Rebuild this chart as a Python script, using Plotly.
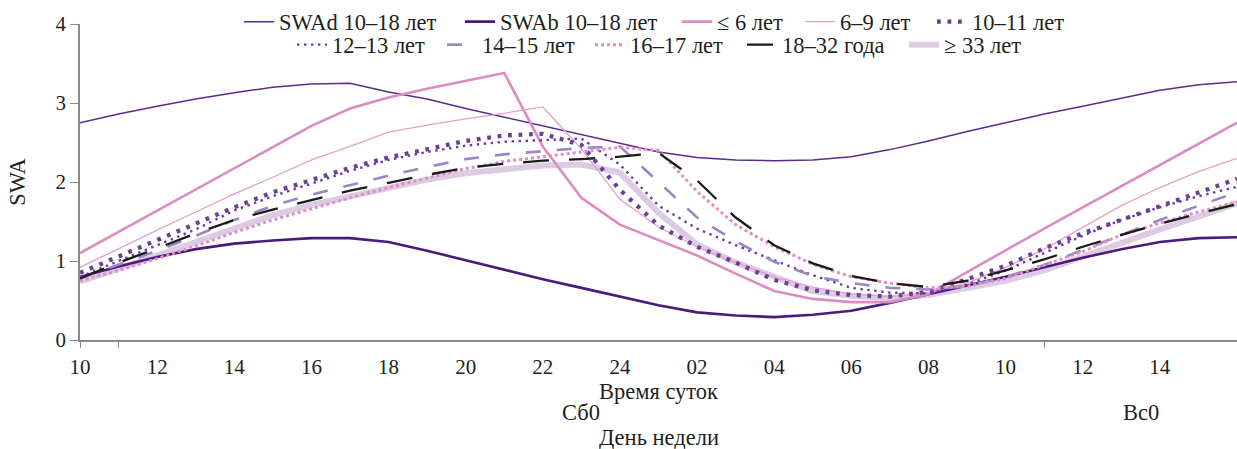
import plotly.graph_objects as go

# ---- data -------------------------------------------------------------
hours = list(range(10, 41))  # continuous hour index (10 = Sat 10:00 ... 40 = Sun 16:00)

tick_hours = list(range(10, 40, 2))
tick_labels = ["10", "12", "14", "16", "18", "20", "22", "24",
               "02", "04", "06", "08", "10", "12", "14"]

day_bounds = [10, 11, 35, 40]
day_labels = ["Сб0", "Вс0"]

swa_d = [2.75, 2.86, 2.96, 3.05, 3.13, 3.20, 3.24, 3.25, 3.14, 3.05,
         2.93, 2.82, 2.71, 2.60, 2.49, 2.38, 2.31, 2.28, 2.27, 2.28,
         2.32, 2.41, 2.52, 2.64, 2.75, 2.86, 2.96, 3.06, 3.16, 3.23, 3.27]
swa_b = [0.80, 0.93, 1.05, 1.15, 1.22, 1.26, 1.29, 1.29, 1.24, 1.13,
         1.01, 0.89, 0.77, 0.66, 0.55, 0.44, 0.35, 0.31, 0.29, 0.32,
         0.37, 0.47, 0.58, 0.69, 0.80, 0.92, 1.04, 1.15, 1.24, 1.29, 1.30]
age_le6 = [1.10, 1.37, 1.64, 1.91, 2.18, 2.45, 2.71, 2.93, 3.07, 3.18,
           3.28, 3.38, 2.45, 1.80, 1.46, 1.27, 1.07, 0.84, 0.62, 0.52,
           0.48, 0.48, 0.58, 0.86, 1.14, 1.41, 1.68, 1.95, 2.21, 2.48, 2.75]
age_6_9 = [0.92, 1.16, 1.39, 1.62, 1.85, 2.06, 2.28, 2.45, 2.63, 2.72,
           2.80, 2.87, 2.95, 2.42, 1.78, 1.43, 1.18, 0.98, 0.80, 0.67,
           0.58, 0.55, 0.60, 0.72, 0.92, 1.15, 1.43, 1.70, 1.93, 2.13, 2.30]
age_10_11 = [0.85, 1.06, 1.27, 1.47, 1.68, 1.87, 2.03, 2.18, 2.31, 2.42,
             2.52, 2.59, 2.61, 2.47, 1.90, 1.45, 1.18, 0.98, 0.76, 0.63,
             0.57, 0.55, 0.61, 0.77, 0.94, 1.16, 1.35, 1.52, 1.69, 1.87, 2.04]
age_12_13 = [0.80, 1.00, 1.20, 1.40, 1.64, 1.82, 1.98, 2.14, 2.28, 2.38,
             2.46, 2.51, 2.53, 2.55, 2.22, 1.70, 1.41, 1.20, 1.01, 0.82,
             0.66, 0.60, 0.59, 0.70, 0.88, 1.10, 1.32, 1.52, 1.68, 1.82, 1.94]
age_14_15 = [0.78, 0.95, 1.13, 1.32, 1.52, 1.70, 1.84, 1.96, 2.08, 2.19,
             2.29, 2.35, 2.39, 2.43, 2.45, 2.00, 1.55, 1.25, 0.99, 0.81,
             0.72, 0.66, 0.64, 0.68, 0.80, 0.95, 1.14, 1.34, 1.52, 1.70, 1.87]
age_16_17 = [0.75, 0.88, 1.03, 1.19, 1.36, 1.52, 1.66, 1.80, 1.93, 2.05,
             2.17, 2.26, 2.32, 2.38, 2.44, 2.40, 1.88, 1.46, 1.18, 0.96,
             0.80, 0.72, 0.66, 0.68, 0.78, 0.95, 1.12, 1.33, 1.48, 1.62, 1.75]
age_18_32 = [0.78, 0.98, 1.16, 1.35, 1.52, 1.65, 1.77, 1.89, 1.99, 2.09,
             2.18, 2.23, 2.27, 2.29, 2.32, 2.37, 2.02, 1.55, 1.20, 0.97,
             0.81, 0.72, 0.67, 0.75, 0.88, 1.02, 1.18, 1.33, 1.47, 1.60, 1.72]
age_ge33 = [0.74, 0.90, 1.07, 1.24, 1.42, 1.58, 1.71, 1.82, 1.93, 2.03,
            2.11, 2.16, 2.21, 2.22, 2.12, 1.61, 1.21, 0.98, 0.80, 0.62,
            0.56, 0.53, 0.57, 0.66, 0.75, 0.88, 1.06, 1.24, 1.40, 1.56, 1.73]

# ---- styling ----------------------------------------------------------
FONT = "Liberation Serif"
TXT = "#231f20"
AXIS = "#8a8a8a"
FS = 22.5      # legend / titles / day labels
FS_TICK = 21   # numeric tick labels

# name, values, color, width, dash, legend text start px, legend row
series = [
    ("≥ 33 лет", age_ge33, "#dccbe3", 6, "solid", 947, 2),
    ("SWAd 10–18 лет", swa_d, "#5b2c8e", 1.5, "solid", 282, 1),
    ("SWAb 10–18 лет", swa_b, "#4a1a7c", 2.6, "solid", 503, 1),
    ("≤ 6 лет", age_le6, "#dc8cc3", 2.6, "solid", 720, 1),
    ("6–9 лет", age_6_9, "#e59fcd", 1.3, "solid", 843, 1),
    ("10–11 лет", age_10_11, "#6a4199", 4.3, "3.8px,6.7px", 975, 1),
    ("12–13 лет", age_12_13, "#6a3d9a", 2.4, "2.4px,4.6px", 335, 2),
    ("14–15 лет", age_14_15, "#9a88c2", 2.6, "15px,16px", 485, 2),
    ("16–17 лет", age_16_17, "#e08fc5", 3, "3px,3px", 633, 2),
    ("18–32 года", age_18_32, "#1b1b1b", 2.3, "26px,20px", 785, 2),
]

L, R, T, B = 80, 0, 24, 109
W, H = 1237, 449
PW, PH = W - L - R, H - T - B

fig = go.Figure()
layout_legends = {}
for i, (name, vals, color, width, dash, tx, row) in enumerate(series):
    key = "legend" if i == 0 else f"legend{i + 1}"
    fig.add_trace(go.Scatter(
        x=hours, y=vals, mode="lines", name=name,
        line=dict(color=color, width=width, dash=dash),
        legend=key, hoverinfo="skip",
    ))
    ypx = 22 if row == 1 else 45
    layout_legends[key] = dict(
        x=(tx - 43 - L) / PW, xanchor="left",
        y=(H - B - ypx) / PH, yanchor="middle",
        orientation="h", bgcolor="rgba(0,0,0,0)", borderwidth=0,
        font=dict(family=FONT, size=FS, color=TXT),
        itemwidth=30,
    )

annotations = []
for j, lab in enumerate(day_labels):
    mid = (day_bounds[j + 1] + day_bounds[j + 2]) / 2
    annotations.append(dict(
        x=mid, xref="x", y=(H - B - 413) / PH, yref="paper",
        text=lab, showarrow=False, xanchor="center", yanchor="middle",
        font=dict(family=FONT, size=FS, color=TXT),
    ))
annotations.append(dict(
    x=0.5, xref="paper", y=(H - B - 437) / PH, yref="paper",
    text="День недели", showarrow=False, xanchor="center", yanchor="middle",
    font=dict(family=FONT, size=FS, color=TXT),
))

fig.update_layout(
    width=W, height=H,
    margin=dict(l=L, r=R, t=T, b=B, pad=0),
    paper_bgcolor="white", plot_bgcolor="white",
    font=dict(family=FONT, size=FS, color=TXT),
    annotations=annotations,
    xaxis=dict(
        range=[hours[0], hours[-1]], tickmode="array",
        tickvals=tick_hours, ticktext=tick_labels,
        ticks="outside", ticklen=7, tickcolor="rgba(0,0,0,0)",
        showline=True, linecolor=AXIS, linewidth=1.5,
        showgrid=False, zeroline=False,
        tickfont=dict(family=FONT, size=FS_TICK, color=TXT),
        title=dict(text="Время суток", standoff=3,
                   font=dict(family=FONT, size=FS, color=TXT)),
    ),
    xaxis2=dict(
        overlaying="x", anchor="y", side="bottom",
        range=[hours[0], hours[-1]], tickmode="array",
        tickvals=day_bounds[:3], ticktext=["", "", ""],
        ticks="outside", ticklen=7, tickcolor=AXIS, tickwidth=1,
        showline=False, showgrid=False, zeroline=False,
    ),
    yaxis=dict(
        range=[0, 4], tickmode="array", tickvals=[0, 1, 2, 3, 4],
        ticks="outside", ticklen=8, tickcolor=AXIS, tickwidth=1.2,
        showline=True, linecolor=AXIS, linewidth=1.5,
        showgrid=False, zeroline=False,
        tickfont=dict(family=FONT, size=FS_TICK, color=TXT),
        title=dict(text="SWA", standoff=24,
                   font=dict(family=FONT, size=FS, color=TXT)),
    ),
    showlegend=True,
    **layout_legends,
)

# invisible helper trace so the day-boundary axis is rendered
fig.add_trace(go.Scatter(x=[hours[0]], y=[None], xaxis="x2", showlegend=False,
                         hoverinfo="skip", mode="lines"))

fig.write_html("out.html", config={"displayModeBar": False},
               post_script="document.body.style.margin='0px';")
